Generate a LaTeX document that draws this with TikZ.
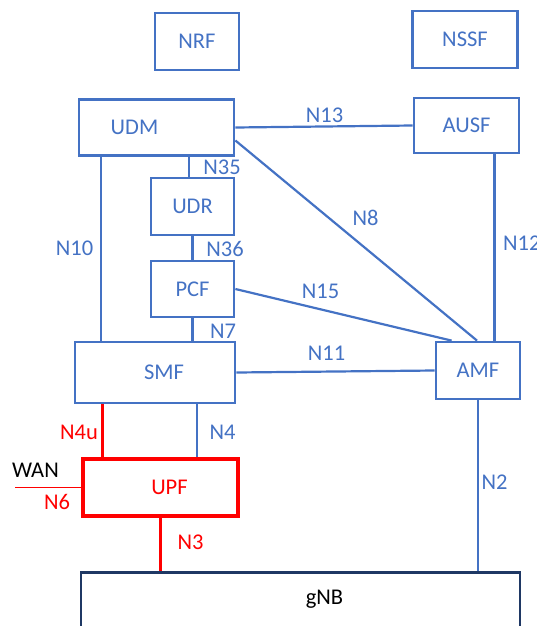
\documentclass[tikz,border=0pt]{standalone}
\usepackage{fontspec}
\setmainfont{Carlito}
\usepackage{xcolor}
\usetikzlibrary{positioning, calc}
\definecolor{nfblue}{HTML}{4472C4}
\definecolor{upred}{HTML}{FF0000}
\definecolor{rannavy}{HTML}{1F3864}

\tikzset{
  nf/.style={draw=nfblue, line width=2.8pt, text=nfblue, font=\fontsize{22.5}{26}\selectfont, inner sep=0pt},
  nftext/.style={font=\fontsize{22.5}{26}\selectfont},
  ifblue/.style={draw=nfblue, line width=2.2pt},
  ifred/.style={draw=upred, line width=2.8pt},
  iflabel/.style={text=nfblue, font=\fontsize{22.5}{26}\selectfont, inner sep=0pt},
}

\begin{document}
\begin{tikzpicture}[x=1pt, y=-1pt]
\useasboundingbox (0,0) rectangle (537,626);
% network functions
\node[nf, minimum width=84pt, minimum height=57pt] (nrf) at (197,41.5) {NRF};
\node[nf, minimum width=105pt, minimum height=57pt] (nssf) at (465,39.5) {NSSF};
\node[nf, minimum width=155pt, minimum height=56pt,
  label={[nftext, text=nfblue, xshift=-22pt]center:UDM}] (udm) at (156.5,127.5) {};
\node[nf, minimum width=105pt, minimum height=55pt] (ausf) at (466.5,125.5) {AUSF};
\node[nf, minimum width=83pt, minimum height=57pt] (udr) at (192.5,206.5) {UDR};
\node[nf, minimum width=83pt, minimum height=56pt] (pcf) at (192.5,289) {PCF};
\node[nf, minimum width=160pt, minimum height=61pt,
  label={[nftext, text=nfblue, xshift=9pt]center:SMF}] (smf) at (155,372.5) {};
\node[nf, minimum width=84pt, minimum height=57pt] (amf) at (478,370.5) {AMF};
\node[nf, draw=upred, line width=3.2pt, minimum width=155pt, minimum height=57pt,
  label={[nftext, text=upred, xshift=9pt]center:UPF}] (upf) at (160.5,487.5) {};
\node[nf, draw=rannavy, line width=2.6pt, minimum width=439pt, minimum height=80pt, anchor=north,
  label={[nftext, text=black, xshift=24pt, yshift=13pt]center:gNB}] (gnb) at (300.5,571) {};
\coordinate (wan) at (15,487.5);

% interfaces
\draw[ifblue] (udm.east) -- (ausf.west);
\draw[ifblue] ([yshift=-13pt]udm.east) -- ([xshift=-1pt]amf.north);
\draw[ifblue] ([xshift=23.5pt]udm.south west) coordinate (n10top) -- (n10top |- smf.north);
\draw[ifblue] ([xshift=-3.5pt]udr.north |- udm.south) -- ([xshift=-3.5pt]udr.north);
\draw[ifblue] (udr.south) -- (pcf.north);
\draw[ifblue] (pcf.south) -- (pcf.south |- smf.north);
\draw[ifblue] (pcf.east) -- ([xshift=17pt]amf.north west);
\draw[ifblue] ([xshift=-26pt]ausf.south east) coordinate (n12top) -- (n12top |- amf.north);
\draw[ifblue] (smf.east) -- (amf.west);
\draw[ifred] ([xshift=28.5pt]smf.south west) coordinate (n4utop) -- (n4utop |- upf.north);
\draw[ifblue] ([xshift=42pt]smf.south) coordinate (n4top) -- (n4top |- upf.north);
\draw[ifred] (upf.south) -- (upf.south |- gnb.north);
\draw[ifblue] (amf.south) -- (amf.south |- gnb.north);
\draw[draw=upred, line width=1pt] (wan) -- (upf.west);

% interface names
\node[iflabel] (lbln13) at (324.5,115) {N13};
\node[iflabel] (lbln8) at (365.5,218) {N8};
\node[iflabel] (lbln35) at (222,167) {N35};
\node[iflabel] (lbln36) at (225,249) {N36};
\node[iflabel] (lbln7) at (223,331) {N7};
\node[iflabel] (lbln10) at (74.5,248) {N10};
\node[iflabel, anchor=west] (lbln12) at (503,243) {N12};
\node[iflabel] (lbln15) at (320.5,291) {N15};
\node[iflabel] (lbln11) at (326.5,353) {N11};
\node[iflabel, text=upred] (lbln4u) at (79,432) {N4u};
\node[iflabel] (lbln4) at (222.5,432) {N4};
\node[iflabel, text=black] (lblwan) at (35.5,470) {WAN};
\node[iflabel, text=upred] (lbln6) at (57,502) {N6};
\node[iflabel, text=upred] (lbln3) at (190.5,542) {N3};
\node[iflabel] (lbln2) at (494.5,482) {N2};
\end{tikzpicture}
\end{document}
